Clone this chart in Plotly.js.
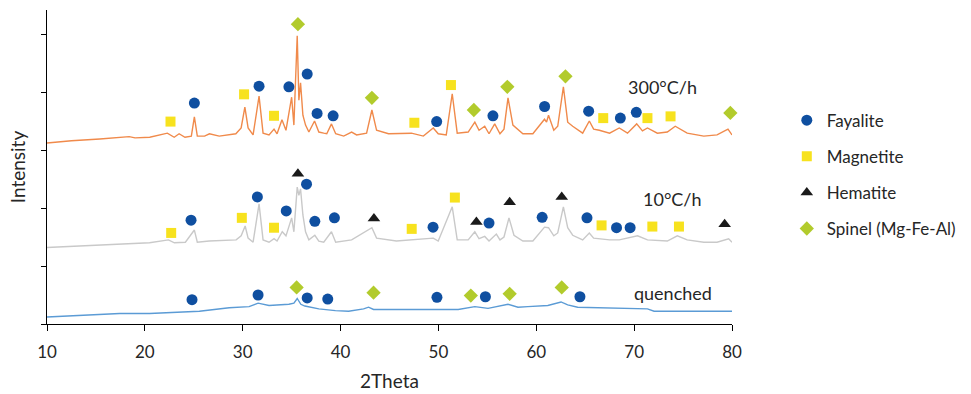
<!DOCTYPE html>
<html>
<head>
<meta charset="utf-8">
<script src="https://cdn.plot.ly/plotly-3.0.1.min.js"></script>
<style>html,body{margin:0;padding:0;background:#fff;}#chart{width:971px;height:394px;}</style>
</head>
<body>
<div id="chart"></div>
<script>
// ---- Pattern: 300°C/h (offset intensity, arbitrary units) ----
const x300 = [10.0, 12.5, 15.4, 18.4, 19.0, 20.5, 22.3, 23.0, 23.5, 24.1, 24.75, 25.06, 25.36, 26.1, 26.6, 27.6, 29.3, 29.84, 30.22, 30.55, 31.06, 31.67, 32.08, 32.69, 33.2, 33.51, 34.01, 34.42, 35.0, 35.23, 35.57, 35.74, 35.91, 36.15, 36.42, 36.76, 37.34, 37.78, 38.28, 38.59, 39.07, 39.5, 40.32, 41.13, 41.64, 42.66, 43.2, 43.68, 44.9, 45.71, 47.24, 48.46, 49.47, 49.98, 50.8, 51.41, 51.92, 53.04, 53.72, 54.15, 54.73, 55.17, 55.75, 56.29, 56.7, 57.11, 57.61, 58.63, 59.65, 60.84, 61.05, 61.25, 61.79, 62.19, 62.77, 63.21, 63.72, 64.74, 65.42, 65.86, 66.44, 67.49, 68.48, 69.32, 70.26, 70.85, 71.36, 72.37, 73.39, 74.2, 75.42, 77.12, 78.47, 79.59, 80.0];
const y300 = [3.12, 3.16, 3.19, 3.23, 3.21, 3.22, 3.29, 3.22, 3.28, 3.22, 3.24, 3.57, 3.24, 3.24, 3.28, 3.24, 3.28, 3.38, 3.74, 3.38, 3.26, 3.93, 3.29, 3.26, 3.36, 3.28, 3.52, 3.34, 3.91, 3.43, 4.97, 3.86, 4.16, 3.60, 3.43, 3.31, 3.50, 3.31, 3.29, 3.28, 3.45, 3.28, 3.24, 3.31, 3.26, 3.29, 3.69, 3.34, 3.28, 3.28, 3.29, 3.24, 3.38, 3.28, 3.26, 3.97, 3.29, 3.31, 3.48, 3.34, 3.41, 3.28, 3.45, 3.28, 3.36, 3.90, 3.43, 3.28, 3.28, 3.53, 3.48, 3.60, 3.34, 3.41, 4.09, 3.48, 3.41, 3.29, 3.50, 3.36, 3.34, 3.29, 3.38, 3.29, 3.45, 3.33, 3.38, 3.29, 3.31, 3.41, 3.29, 3.24, 3.26, 3.36, 3.26];

// ---- Pattern: 10°C/h ----
const x10 = [10.0, 15.39, 18.44, 20.48, 22.41, 23.02, 24.14, 25.06, 25.36, 26.58, 29.33, 29.84, 30.25, 30.55, 31.06, 31.67, 32.08, 32.69, 33.2, 33.51, 34.04, 34.42, 35.0, 35.23, 35.57, 35.74, 35.91, 36.15, 36.42, 36.76, 37.37, 37.78, 38.28, 39.07, 39.5, 41.13, 43.2, 43.68, 45.71, 47.24, 49.47, 49.98, 51.41, 51.92, 53.04, 53.72, 54.15, 54.73, 55.17, 55.92, 56.29, 56.7, 57.21, 57.72, 58.63, 59.65, 60.84, 61.25, 61.79, 62.19, 62.77, 63.21, 63.72, 64.74, 65.42, 65.86, 67.49, 68.48, 70.35, 71.36, 73.39, 74.41, 75.42, 77.12, 78.47, 79.66, 80.0];
const y10 = [1.32, 1.36, 1.38, 1.40, 1.45, 1.40, 1.41, 1.62, 1.41, 1.43, 1.45, 1.52, 1.69, 1.48, 1.41, 2.07, 1.45, 1.41, 1.47, 1.43, 1.59, 1.52, 1.83, 1.59, 2.36, 2.22, 2.33, 1.88, 1.59, 1.45, 1.53, 1.43, 1.41, 1.59, 1.41, 1.45, 1.66, 1.48, 1.43, 1.45, 1.48, 1.43, 2.02, 1.45, 1.45, 1.59, 1.47, 1.51, 1.43, 1.55, 1.45, 1.50, 1.83, 1.53, 1.43, 1.43, 1.67, 1.66, 1.52, 1.57, 2.02, 1.66, 1.53, 1.45, 1.57, 1.48, 1.45, 1.45, 1.52, 1.45, 1.43, 1.52, 1.45, 1.41, 1.41, 1.47, 1.41];

// ---- Pattern: quenched ----
const xQ = [10.0, 13.36, 17.43, 20.48, 25.57, 28.62, 30.65, 31.57, 32.69, 34.72, 35.23, 35.57, 35.94, 36.35, 37.09, 37.78, 39.47, 40.82, 42.35, 42.86, 43.37, 45.91, 48.97, 49.98, 52.02, 53.72, 55.07, 57.11, 58.13, 59.14, 61.18, 62.53, 63.21, 64.23, 66.26, 69.32, 71.36, 72.04, 76.45, 80.0];
const yQ = [0.12, 0.15, 0.18, 0.18, 0.22, 0.28, 0.30, 0.36, 0.32, 0.34, 0.36, 0.44, 0.34, 0.31, 0.29, 0.26, 0.23, 0.22, 0.26, 0.29, 0.25, 0.25, 0.25, 0.24, 0.25, 0.30, 0.27, 0.34, 0.29, 0.30, 0.32, 0.38, 0.33, 0.29, 0.28, 0.27, 0.26, 0.22, 0.22, 0.22];

// ---- Phase markers ----
const fay300X = [25.06, 31.67, 34.72, 36.59, 37.60, 39.24, 49.82, 55.57, 60.85, 65.35, 68.59, 70.22];
const fay300Y = [3.81, 4.10, 4.09, 4.31, 3.63, 3.59, 3.49, 3.59, 3.75, 3.67, 3.55, 3.65];
const fay10X = [24.72, 31.50, 34.45, 36.52, 37.37, 39.37, 49.45, 55.17, 60.60, 65.18, 68.20, 69.59];
const fay10Y = [1.79, 2.19, 1.95, 2.41, 1.77, 1.83, 1.67, 1.74, 1.84, 1.83, 1.66, 1.66];
const fayQX = [24.82, 31.57, 36.59, 38.69, 49.85, 54.80, 64.46];
const fayQY = [0.42, 0.50, 0.45, 0.43, 0.46, 0.47, 0.47];

const mag300X = [22.62, 30.14, 33.20, 47.54, 51.28, 66.84, 71.36, 73.72];
const mag300Y = [3.49, 3.96, 3.59, 3.47, 4.12, 3.55, 3.55, 3.58];
const mag10X = [22.69, 29.91, 33.20, 47.27, 51.68, 66.67, 71.86, 74.58];
const mag10Y = [1.57, 1.83, 1.66, 1.64, 2.18, 1.70, 1.68, 1.68];

const hem10X = [35.64, 43.41, 53.88, 57.28, 62.60, 79.25];
const hem10Y = [2.59, 1.82, 1.76, 2.10, 2.19, 1.72];

const spi300X = [35.64, 43.20, 53.62, 57.04, 62.98, 79.83];
const spi300Y = [5.17, 3.90, 3.69, 4.09, 4.27, 3.64];
const spiQX = [35.51, 43.37, 53.31, 57.28, 62.60];
const spiQY = [0.63, 0.54, 0.49, 0.52, 0.63];

const phaseNames = ["Fayalite", "Magnetite", "Hematite", "Spinel (Mg-Fe-Al)"];
const patternLabels = ["300°C/h", "10°C/h", "quenched"];
const labelX = [72.9, 73.9, 74.0];
const labelY = [4.09, 2.16, 0.53];
const xTicks = [10, 20, 30, 40, 50, 60, 70, 80];

const FONT = "Lato, 'Open Sans', sans-serif";
const TXT = "#262626";

const traces = [
  {x: x300, y: y300, mode: "lines", line: {color: "#F08A4B", width: 1.4}, showlegend: false, hoverinfo: "skip"},
  {x: x10, y: y10, mode: "lines", line: {color: "#C9C9C9", width: 1.4}, showlegend: false, hoverinfo: "skip"},
  {x: xQ, y: yQ, mode: "lines", line: {color: "#5B9BD5", width: 1.4}, showlegend: false, hoverinfo: "skip"},
  {x: fay300X.concat(fay10X, fayQX), y: fay300Y.concat(fay10Y, fayQY), mode: "markers", name: phaseNames[0], legendgroup: "a",
   marker: {symbol: "circle", size: 11, color: "#0F4FA0"}, cliponaxis: false},
  {x: mag300X.concat(mag10X), y: mag300Y.concat(mag10Y), mode: "markers", name: phaseNames[1], legendgroup: "b",
   marker: {symbol: "square", size: 10, color: "#F7E21E"}, cliponaxis: false},
  {x: hem10X, y: hem10Y, mode: "markers", name: phaseNames[2], legendgroup: "c",
   marker: {symbol: "triangle-up", size: 11, color: "#1A1A1A"}, cliponaxis: false},
  {x: spi300X.concat(spiQX), y: spi300Y.concat(spiQY), mode: "markers", name: phaseNames[3], legendgroup: "d",
   marker: {symbol: "diamond", size: 11, color: "#B2CB2C"}, cliponaxis: false}
];

const layout = {
  width: 971, height: 394,
  margin: {l: 47, r: 236, t: 10, b: 70},
  paper_bgcolor: "#fff", plot_bgcolor: "#fff",
  font: {family: FONT, size: 17, color: TXT},
  showlegend: true,
  legend: {x: 1.08, xanchor: "left", y: 0.705, yanchor: "top", traceorder: "grouped", tracegroupgap: 11,
           font: {family: FONT, size: 17, color: TXT}, itemwidth: 30, bgcolor: "rgba(0,0,0,0)"},
  xaxis: {range: [10, 80], tickvals: xTicks, ticktext: xTicks.map(String), ticks: "outside", ticklen: 6, tickcolor: "#000",
          showline: true, linecolor: "#000", linewidth: 1.2, showgrid: false, zeroline: false, ticklabelstandoff: 6,
          tickfont: {family: FONT, size: 17, color: TXT},
          title: {text: "2Theta", font: {family: FONT, size: 19, color: TXT}, standoff: 14}},
  yaxis: {range: [0, 5.414], tick0: 0, dtick: 1, ticks: "outside", ticklen: 5, tickcolor: "#000", showticklabels: false,
          showline: true, linecolor: "#000", linewidth: 1.2, showgrid: false, zeroline: false,
          title: {text: "Intensity", font: {family: FONT, size: 19, color: TXT}, standoff: 10}},
  annotations: patternLabels.map((t, i) => ({x: labelX[i], y: labelY[i], xref: "x", yref: "y", text: t, showarrow: false,
          font: {family: FONT, size: 18, color: TXT}}))
};

Plotly.newPlot("chart", traces, layout, {staticPlot: true, displayModeBar: false});
</script>
</body>
</html>
